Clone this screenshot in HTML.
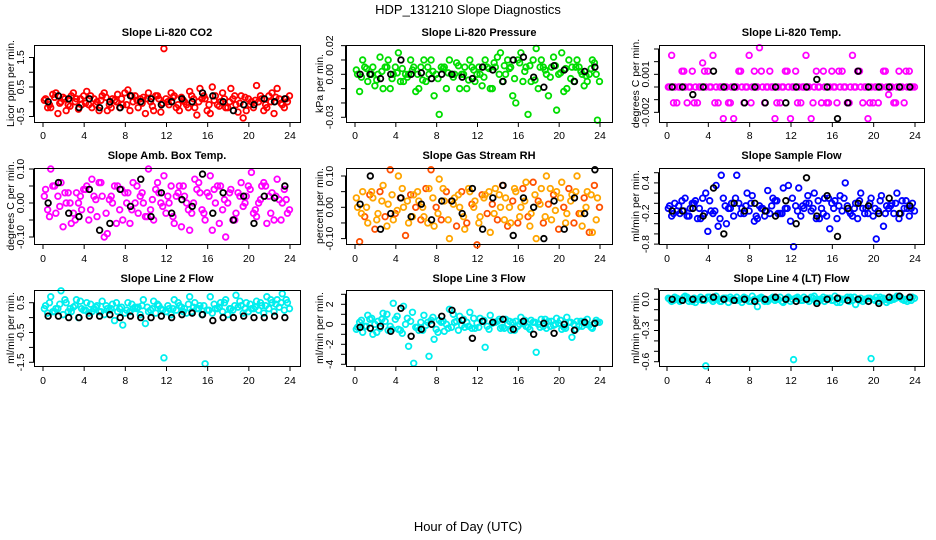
<!DOCTYPE html>
<html><head><meta charset="utf-8"><style>
html,body{margin:0;padding:0;background:#fff}
svg{display:block;font-family:"Liberation Sans",sans-serif}
</style></head><body>
<svg id="chart" width="936" height="540" viewBox="0 0 936 540" xmlns="http://www.w3.org/2000/svg">
<text x="468" y="14" text-anchor="middle" font-size="13">HDP_131210  Slope Diagnostics</text>
<text x="468" y="531" text-anchor="middle" font-size="13">Hour of Day (UTC)</text>
</svg>
<script>
const hoursColor=[0.25,0.75,1.25,1.75,2.25,2.75,3.25,3.75,4.25,4.75,5.25,5.75,6.25,6.75,7.25,7.75,8.25,8.75,9.25,9.75,10.25,10.75,11.25,11.75,12.25,12.75,13.25,13.75,14.25,14.75,15.25,15.75,16.25,16.75,17.25,17.75,18.25,18.75,19.25,19.75,20.25,20.75,21.25,21.75,22.25,22.75,23.25,23.75];
const hoursBlack=[0.5,1.5,2.5,3.5,4.5,5.5,6.5,7.5,8.5,9.5,10.5,11.5,12.5,13.5,14.5,15.5,16.5,17.5,18.5,19.5,20.5,21.5,22.5,23.5];
const xTicks=[0,4,8,12,16,20,24];

const co2A=[0.1,-0.2,0.3,0.0,-0.3,0.2,0.1,-0.1,0.35,-0.2,0.0,0.2,-0.3,0.1,0.25,-0.1,0.4,0.0,-0.2,0.15,0.3,-0.3,0.1,1.8,-0.1,0.2,-0.3,0.0,0.35,-0.2,0.45,0.1,-0.4,0.2,0.0,-0.2,0.45,-0.1,0.2,-0.3,0.0,0.55,0.1,-0.2,0.3,0.45,-0.1,0.0];
const co2B=[-0.2,0.25,-0.4,0.15,-0.1,0.3,-0.25,0.2,-0.1,0.1,-0.3,0.3,-0.1,0.05,-0.2,0.3,-0.3,0.2,0.1,-0.4,0.0,0.2,-0.35,0.1,0.3,-0.2,0.15,-0.1,0.2,-0.45,0.1,-0.3,0.5,-0.1,0.3,-0.2,0.1,-0.35,-0.55,0.1,-0.2,0.0,-0.3,0.2,-0.4,0.1,-0.2,0.2];
const co2C=[0.05,-0.1,0.15,-0.05,0.1,-0.15,0.0,0.1,-0.05,0.2,-0.1,0.05,0.15,-0.2,0.0,0.1,-0.1,0.2,0.05,-0.05,0.1,-0.15,0.2,-0.05,0.0,0.15,-0.1,0.05,-0.2,0.1,0.0,0.2,-0.1,0.05,-0.15,0.1,0.0,0.2,-0.05,0.15,-0.1,0.05,0.2,-0.1,0.0,0.15,-0.05,0.1];
const co2K=[0.0,0.2,0.1,-0.2,0.1,-0.2,0.0,-0.2,0.2,0.0,0.1,-0.1,0.0,0.1,0.0,0.3,0.2,0.0,-0.3,-0.1,-0.1,0.1,0.0,0.1];

const presA=[0.0,0.01,-0.005,0.005,0.0,-0.01,0.01,0.0,0.015,-0.005,0.0,0.005,-0.01,0.01,0.0,-0.015,-0.028,0.005,0.01,0.0,-0.01,0.005,0.01,-0.005,0.0,0.01,-0.01,0.005,0.015,0.0,0.005,-0.02,0.015,0.005,-0.005,0.018,0.01,0.0,0.005,-0.025,0.015,-0.01,0.005,0.01,0.0,-0.005,0.01,-0.032];
const presB=[-0.012,0.005,0.0,-0.008,0.012,0.005,-0.01,0.005,-0.005,0.0,0.01,-0.012,0.005,-0.005,0.01,0.0,0.005,-0.01,0.0,0.008,0.0,-0.01,0.005,0.0,-0.008,0.005,-0.01,0.012,-0.005,0.01,-0.015,0.01,-0.005,-0.028,0.01,-0.01,0.005,-0.015,0.012,0.0,-0.012,0.01,-0.005,0.005,-0.008,0.0,0.008,-0.005];
const presC=[0.003,-0.002,0.004,0.0,-0.004,0.002,0.005,-0.003,0.001,0.004,-0.002,0.003,0.0,-0.004,0.005,0.002,-0.003,0.004,0.001,-0.002,0.006,0.0,-0.004,0.003,0.005,-0.002,0.004,0.008,0.0,0.006,0.004,-0.003,0.008,0.002,0.006,-0.004,0.005,0.003,-0.002,0.006,0.001,0.004,-0.003,0.005,0.002,-0.001,0.004,0.0];
const presK=[0.0,0.0,-0.003,0.0,0.01,0.0,0.001,-0.003,0.0,0.0,-0.002,-0.003,0.005,0.003,-0.005,0.01,0.012,-0.002,-0.009,0.006,0.003,-0.005,0.002,0.005];

const tempA=[0,0,0,0,0,0,0,0,0,0,0,0,0,0,0,0,0,0,0,0,0,0,0,0,0,0,0,0,0,0,0,0,0,0,0,0,0,0,0,0,0,0,0,0,0,0,0,0];
const tempB=[0.0025,-0.00125,0.00125,-0.00125,0.00125,-0.00125,0.0019,0.00125,0.0025,-0.00125,-0.0025,-0.00125,-0.0025,0.00125,-0.00125,0.0025,0.00125,0.0031,-0.00125,0.00125,-0.0025,-0.00125,0.00125,-0.0025,0.00125,-0.00125,0.0025,-0.0025,0.00125,-0.00125,-0.00125,0.00125,-0.00125,0.00125,-0.00125,0.0025,0.00125,-0.00125,-0.0025,-0.00125,-0.00125,0.00125,-0.0006,-0.00125,0.00125,-0.00125,0.00125,0];
const tempC=[0,-0.00125,0,0.00125,0,-0.00125,0,0.00125,0,-0.00125,0,0,-0.00125,0,0.00125,0,-0.00125,0,0.00125,0,0,-0.00125,0,0.00125,0,-0.00125,0,0,-0.00125,0,0.00125,-0.00125,0,0.00125,0,-0.00125,0,0.00125,0,-0.00125,0,0,0.00125,0,-0.00125,0,0.00125,0];
const tempK=[0,0,-0.0006,0,0.00125,0,0,-0.00125,0,-0.00125,0,-0.00125,0,0,0.0006,0,-0.0025,-0.00125,0.00125,0,0,0,0,0];

const ambA=[0.04,0.1,-0.03,0.06,0.0,-0.06,0.03,-0.02,0.05,0.07,-0.04,0.02,-0.09,0.0,0.05,-0.05,0.03,0.06,-0.03,0.0,0.1,-0.05,0.03,0.08,0.0,-0.06,0.05,0.02,-0.08,0.07,0.03,-0.05,0.08,0.0,0.05,-0.1,0.04,-0.03,0.06,0.02,0.09,-0.04,0.05,-0.06,0.03,0.07,0.0,-0.03];
const ambB=[-0.02,0.05,0.02,-0.07,0.03,-0.03,0.0,0.04,-0.05,0.02,0.06,-0.1,0.01,0.05,-0.02,0.03,-0.06,0.0,0.02,-0.04,-0.02,0.04,0.0,-0.03,0.05,0.02,-0.07,0.0,-0.03,0.04,-0.02,0.03,-0.08,0.05,-0.02,0.0,-0.05,0.03,-0.01,0.05,-0.03,0.0,0.06,0.02,-0.05,0.01,0.04,-0.02];
const ambC=[0.02,-0.04,0.05,-0.01,0.03,0.0,-0.05,0.02,0.04,-0.02,0.01,0.06,-0.03,0.02,-0.06,0.04,0.0,-0.02,0.05,0.03,-0.04,0.01,0.06,-0.01,0.02,-0.04,0.03,0.05,-0.02,0.0,0.06,-0.03,0.02,0.04,-0.06,0.01,0.03,-0.05,0.02,0.0,0.04,-0.02,0.01,0.05,-0.03,0.02,-0.05,0.01];
const ambK=[0.0,0.06,-0.03,-0.04,0.04,-0.08,-0.06,0.04,-0.01,0.07,-0.04,0.03,-0.03,0.01,-0.01,0.085,-0.03,0.03,-0.05,0.02,-0.06,0.02,0.015,0.05];

const rhA=[0.0,0.05,-0.05,0.03,-0.02,0.07,0.01,-0.04,0.1,0.0,-0.05,0.04,0.02,-0.03,0.06,-0.06,0.09,0.02,-0.1,0.03,0.0,-0.07,0.05,0.02,-0.03,0.04,-0.08,0.06,0.0,0.03,-0.05,0.05,0.0,0.08,-0.02,-0.1,0.06,0.1,-0.04,0.05,0.08,-0.02,0.04,0.1,-0.06,0.05,-0.08,0.03];
const rhB=[-0.11,-0.03,0.04,-0.07,0.05,-0.03,0.12,-0.02,0.03,-0.09,0.04,0.0,-0.04,0.06,0.12,0.0,-0.04,0.05,0.02,-0.06,0.05,-0.05,0.01,-0.12,0.04,-0.02,0.01,-0.04,0.07,-0.06,0.02,-0.05,0.06,-0.03,0.08,0.02,-0.05,0.01,0.04,-0.07,0.0,0.06,-0.05,-0.02,0.03,-0.08,0.07,0.0];
const rhC=[0.03,-0.02,0.0,0.05,-0.04,0.02,-0.06,0.04,-0.01,0.06,0.02,-0.03,0.05,0.0,-0.05,0.03,-0.02,0.06,-0.04,0.01,0.04,-0.03,0.06,0.0,-0.05,0.03,0.05,-0.02,0.04,-0.04,0.0,0.06,-0.03,0.02,-0.06,0.04,0.01,-0.03,0.06,-0.01,0.03,-0.05,0.02,0.05,-0.02,0.0,0.04,-0.04];
const rhK=[0.01,0.1,-0.07,-0.02,0.03,-0.03,0.01,-0.04,0.02,0.02,-0.02,0.06,-0.07,0.03,0.07,-0.09,0.03,0.0,-0.1,0.02,-0.07,0.03,-0.02,0.12];

const sfA=[-0.05,0.0,-0.2,0.1,-0.1,0.05,-0.3,0.2,-0.15,0.35,0.55,-0.4,0.0,0.55,-0.1,0.2,0.15,-0.3,-0.1,0.25,0.1,-0.2,0.3,0.35,-0.85,0.3,-0.1,0.0,0.2,-0.3,0.1,-0.5,0.05,0.15,0.4,-0.2,0.0,0.2,-0.1,0.1,-0.7,0.15,-0.05,0.0,0.2,0.05,-0.1,0.0];
const sfB=[-0.25,-0.15,0.05,-0.25,0.0,-0.3,0.1,-0.55,-0.2,-0.45,0.1,-0.1,-0.25,0.0,-0.2,-0.15,-0.35,-0.05,-0.25,-0.2,0.05,-0.2,-0.1,-0.35,-0.05,-0.25,0.0,-0.15,-0.3,-0.1,-0.25,0.0,-0.3,-0.15,-0.05,-0.25,-0.3,-0.1,-0.2,-0.25,-0.15,-0.45,-0.1,-0.2,-0.3,-0.1,-0.25,-0.15];
const sfC=[-0.1,-0.2,-0.05,-0.15,-0.25,0.0,-0.1,-0.2,0.05,-0.15,-0.3,-0.05,-0.1,0.1,-0.2,-0.05,0.0,-0.25,-0.1,-0.15,-0.05,0.05,-0.2,-0.1,0.1,-0.15,-0.05,0.15,-0.1,0.05,-0.2,0.1,-0.1,-0.05,0.1,-0.15,-0.1,0.05,-0.2,0.0,-0.1,0.05,-0.2,-0.05,0.0,-0.2,0.05,-0.1];
const sfK=[-0.15,-0.15,-0.1,-0.25,0.3,-0.6,0.0,-0.15,0.0,-0.15,-0.25,0.05,-0.4,0.5,-0.25,0.15,-0.65,-0.1,0.0,-0.05,-0.2,0.1,-0.2,-0.05];

const l2A=[0.4,0.7,0.3,0.9,0.5,0.2,0.6,0.3,0.5,0.2,0.4,0.55,0.3,0.45,0.2,-0.25,0.5,0.3,0.35,0.6,0.2,0.55,0.4,-1.35,0.3,0.6,0.4,0.3,0.7,0.5,0.4,-1.55,0.7,0.3,0.5,0.6,0.3,0.75,0.4,0.5,0.3,0.55,0.4,0.7,0.5,0.6,0.8,0.5];
const l2B=[0.15,0.2,0.3,0.1,0.2,0.35,0.0,0.25,0.15,0.3,0.2,0.1,0.25,-0.1,0.3,0.15,0.2,0.35,0.1,-0.2,0.25,0.15,0.3,0.2,0.1,0.25,0.35,0.15,0.2,0.3,0.1,0.25,0.15,0.3,0.2,0.1,0.25,0.35,0.15,0.2,0.3,0.25,0.15,0.3,0.2,0.35,0.25,0.3];
const l2C=[0.3,0.5,0.2,0.45,0.6,0.3,0.4,0.55,0.25,0.45,0.35,0.2,0.4,0.3,0.5,0.35,0.25,0.45,0.3,0.4,0.35,0.3,0.45,0.25,0.4,0.3,0.5,0.2,0.45,0.35,0.3,0.4,0.25,0.45,0.35,0.5,0.3,0.4,0.55,0.3,0.45,0.35,0.5,0.4,0.6,0.45,0.5,0.6];
const l2K=[0.05,0.05,0.0,0.0,0.05,0.05,0.1,0.0,0.05,0.0,0.0,0.05,0.0,0.1,0.15,0.1,-0.1,0.0,0.0,0.05,0.0,0.0,0.05,0.0];

const l3A=[-0.3,-0.8,0.9,-1.0,0.3,1.1,-0.6,2.1,-0.5,1.8,-2.2,-3.9,-0.6,0.9,-3.2,-1.5,0.4,-0.7,1.5,0.2,0.8,-0.3,1.2,-0.4,0.6,-2.3,0.9,0.2,-0.4,0.5,-0.6,0.3,0.7,-0.2,0.4,-2.8,0.5,-0.4,0.3,0.6,-0.5,0.7,-1.3,0.3,-0.2,0.5,-0.4,0.2];
const l3B=[0.2,-0.2,0.5,0.0,-0.4,0.3,-0.2,0.5,-0.6,0.0,0.3,-0.3,0.2,-0.1,0.4,-0.5,0.2,0.0,-0.3,0.3,-0.1,0.2,-0.4,0.1,0.3,-0.2,0.1,0.3,-0.3,0.0,0.2,-0.2,0.1,-0.3,0.2,0.0,-0.2,0.3,-0.1,0.1,-0.3,0.2,0.0,-0.2,0.3,-0.1,0.1,0.2];
const l3C=[-0.5,0.4,-0.2,0.6,-0.8,0.5,1.0,-0.5,0.8,-0.9,0.6,1.2,-0.3,-0.6,0.2,0.7,-0.8,0.3,-0.4,1.0,-0.6,0.5,-0.2,0.6,-0.3,0.4,-0.5,0.2,0.5,-0.4,0.3,-0.6,0.0,0.4,-0.5,0.2,-0.3,0.5,-0.2,0.0,0.4,-0.4,0.2,-0.5,0.3,0.0,-0.3,0.4];
const l3K=[-0.3,-0.4,-0.2,-0.7,1.6,-1.2,-0.5,0.0,0.8,1.4,0.4,-1.4,0.3,0.2,0.5,-0.5,0.3,-1.0,0.1,-0.9,0.0,-0.6,0.2,0.1];

const l4A=[0.0,0.02,-0.02,0.03,0.0,-0.03,0.02,-0.64,0.0,0.03,-0.02,0.01,0.0,0.02,-0.03,0.0,0.03,-0.07,0.01,-0.02,0.02,0.0,-0.03,0.02,-0.58,0.0,0.02,-0.02,0.03,0.0,-0.02,0.01,0.03,-0.03,0.0,0.02,-0.05,0.01,0.0,-0.57,0.02,0.0,-0.03,0.01,0.03,0.0,-0.02,0.02];
const l4B=[-0.02,0.01,-0.01,0.02,-0.02,0.0,-0.01,0.02,-0.02,0.0,0.01,-0.03,0.0,-0.01,0.02,-0.02,0.0,0.01,-0.02,0.0,-0.01,0.02,0.0,-0.02,0.01,-0.01,0.0,0.02,-0.02,0.0,0.01,-0.01,-0.03,0.0,0.02,-0.01,0.0,-0.02,0.01,0.0,-0.02,0.01,-0.01,0.0,0.02,-0.01,0.0,0.01];
const l4C=[0.01,-0.01,0.0,0.02,-0.02,0.01,0.0,-0.01,0.02,0.0,-0.02,0.01,0.02,-0.01,0.0,0.01,-0.02,0.0,0.02,-0.01,0.01,0.0,-0.02,0.01,0.0,0.02,-0.01,0.0,0.01,-0.02,0.02,0.0,-0.01,0.01,0.0,-0.02,0.02,-0.01,0.0,0.01,-0.01,0.02,0.0,-0.01,0.01,0.02,0.0,-0.01];
const l4K=[0.0,-0.01,0.0,0.0,0.02,0.0,-0.01,0.0,-0.02,0.0,0.02,0.0,-0.02,0.0,-0.04,0.0,0.01,-0.01,0.0,-0.02,-0.04,0.02,0.03,0.02];

const NS="http://www.w3.org/2000/svg";
const svg=document.getElementById('chart');
function mk(tag,attrs,parent){const e=document.createElementNS(NS,tag);for(const k in attrs)e.setAttribute(k,attrs[k]);(parent||svg).appendChild(e);return e;}

const cols=[{bx0:34,bx1:300,h0:43,h24:290,tlx:20,ylx:10},{bx0:346,bx1:612,h0:355,h24:600,tlx:329,ylx:319},{bx0:659,bx1:924,h0:667,h24:915,tlx:645,ylx:635}];
const rows=[{by0:45,by1:122,ty:36,xl:139},{by0:168,by1:244,ty:159,xl:262},{by0:290,by1:366,ty:282,xl:384}];

const panels=[
 {name:'co2',title:'Slope Li-820 CO2',ylab:'Licor ppm per min.',r:0,c:0,y0:101.75,k:29.5,ticks:[-0.5,0,0.5,1,1.5],labels:['1.5','0.5','-0.5'],lv:[1.5,0.5,-0.5],col:'#ff0000',A:co2A,B:co2B,C:co2C,K:co2K},
 {name:'pressure',title:'Slope Li-820 Pressure',ylab:'kPa per min.',r:0,c:1,y0:74.3,k:1433,ticks:[0.02,0.01,0,-0.01,-0.02,-0.03],labels:['0.02','0.00','-0.03'],lv:[0.02,0,-0.03],col:'#00dd00',A:presA,B:presB,C:presC,K:presK},
 {name:'li820-temp',title:'Slope Li-820 Temp.',ylab:'degrees C per min.',r:0,c:2,y0:87,k:12667,ticks:[0.003,0.002,0.001,0,-0.001,-0.002],labels:['0.001','-0.002'],lv:[0.001,-0.002],col:'#ff00ff',A:tempA,B:tempB,C:tempC,K:tempK},
 {name:'amb-box-temp',title:'Slope Amb. Box Temp.',ylab:'degrees C per min.',r:1,c:0,y0:203,k:340,ticks:[0.1,0.05,0,-0.05,-0.1],labels:['0.10','0.00','-0.10'],lv:[0.1,0,-0.1],col:'#ff00ff',A:ambA,B:ambB,C:ambC,K:ambK},
 {name:'gas-stream-rh',title:'Slope Gas Stream RH',ylab:'percent per min.',r:1,c:1,y0:207.3,k:313,ticks:[0.1,0.05,0,-0.05,-0.1],labels:['0.10','0.00','-0.10'],lv:[0.1,0,-0.1],col:'#ffa500',col2:'#ff5000',A:rhA,B:rhB,C:rhC,K:rhK},
 {name:'sample-flow',title:'Slope Sample Flow',ylab:'ml/min per min.',r:1,c:2,y0:203.3,k:51,ticks:[0.6,0.4,0.2,0,-0.2,-0.4,-0.6,-0.8],labels:['0.4','-0.2','-0.8'],lv:[0.4,-0.2,-0.8],col:'#0000ff',A:sfA,B:sfB,C:sfC,K:sfK},
 {name:'line2-flow',title:'Slope Line 2 Flow',ylab:'ml/min per min.',r:2,c:0,y0:317.6,k:29.8,ticks:[0.5,0,-0.5,-1,-1.5],labels:['0.5','-0.5','-1.5'],lv:[0.5,-0.5,-1.5],col:'#00eeee',A:l2A,B:l2B,C:l2C,K:l2K},
 {name:'line3-flow',title:'Slope Line 3 Flow',ylab:'ml/min per min.',r:2,c:1,y0:324.3,k:10,ticks:[3,2,1,0,-1,-2,-3,-4],labels:['2','0','-2','-4'],lv:[2,0,-2,-4],col:'#00eeee',A:l3A,B:l3B,C:l3C,K:l3K},
 {name:'line4-flow',title:'Slope Line 4 (LT) Flow',ylab:'ml/min per min.',r:2,c:2,y0:299.3,k:104,ticks:[0.1,0,-0.1,-0.2,-0.3,-0.4,-0.5,-0.6],labels:['0.0','-0.3','-0.6'],lv:[0,-0.3,-0.6],col:'#00eeee',A:l4A,B:l4B,C:l4C,K:l4K}
];

panels.forEach(p=>{
 const C=cols[p.c],R=rows[p.r];
 const xs=h=>C.h0+(C.h24-C.h0)*h/24;
 const ys=v=>p.y0-p.k*v;
 const g=mk('g',{});
 
 
 const t=mk('text',{x:(C.bx0+C.bx1)/2,y:R.ty,'text-anchor':'middle','font-size':'11','font-weight':'bold'},g);
 t.textContent=p.title;
 
 
 const yl=mk('text',{x:0,y:0,'text-anchor':'middle','font-size':'10.5',transform:`translate(${C.ylx+4},${(R.by0+R.by1)/2}) rotate(-90)`},g);
 yl.textContent=p.ylab;
 
 
 const xa=mk('g',{stroke:'#000','stroke-width':1},g);
 
 
 mk('line',{x1:xs(0),x2:xs(24),y1:R.by1+0.5,y2:R.by1+0.5},xa);
 xTicks.forEach(h=>{
  mk('line',{x1:xs(h),x2:xs(h),y1:R.by1,y2:R.by1+5},xa);
  const tl=mk('text',{x:xs(h),y:R.xl,'text-anchor':'middle','font-size':'10.5',stroke:'none',fill:'#000'},xa);
  tl.textContent=h;
  
  
 });
 const ya=mk('g',{stroke:'#000','stroke-width':1},g);
 
 
 mk('line',{x1:C.bx0-0.5,x2:C.bx0-0.5,y1:ys(p.ticks[0]),y2:ys(p.ticks[p.ticks.length-1])},ya);
 p.ticks.forEach(v=>mk('line',{x1:C.bx0-5,x2:C.bx0,y1:ys(v),y2:ys(v)},ya));
 p.labels.forEach((s,i)=>{
  const tl=mk('text',{x:0,y:0,'text-anchor':'middle','font-size':'10.5',stroke:'none',fill:'#000',transform:`translate(${C.tlx+4},${ys(p.lv[i])}) rotate(-90)`},ya);
  tl.textContent=s;
  
  
 });
 const pa=mk('g',{fill:'none','stroke-width':1.8},g);
 
 
 hoursColor.forEach((h,i)=>{
  const c1=mk('circle',{cx:xs(h),cy:ys(p.A[i]),r:2.8,stroke:p.col},pa);
  
  
  const c2=mk('circle',{cx:xs(h+0.2),cy:ys(p.B[i]),r:2.8,stroke:p.col2||p.col},pa);
  
  
  const c3=mk('circle',{cx:xs(h-0.12),cy:ys(p.C[i]),r:2.8,stroke:p.col},pa);
  
  
 });
 hoursBlack.forEach((h,i)=>{
  const c=mk('circle',{cx:xs(h),cy:ys(p.K[i]),r:2.8,stroke:'#000'},pa);
  
  
 });
 const box=mk('rect',{x:C.bx0+0.5,y:R.by0+0.5,width:C.bx1-C.bx0,height:R.by1-R.by0,fill:'none',stroke:'#000','stroke-width':1},g);
 
 
});
</script>
</body></html>
